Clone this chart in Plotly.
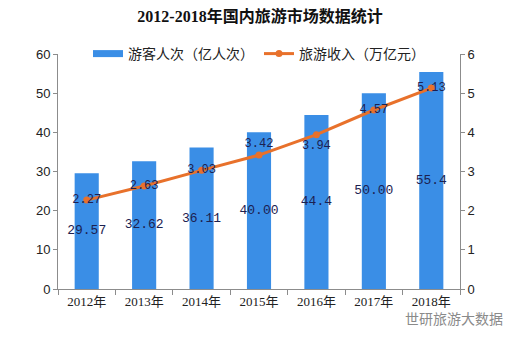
import plotly.graph_objects as go

years = ["2012年", "2013年", "2014年", "2015年", "2016年", "2017年", "2018年"]
visitors = [29.57, 32.62, 36.11, 40.00, 44.4, 50.00, 55.4]
visitor_labels = ["29.57", "32.62", "36.11", "40.00", "44.4", "50.00", "55.4"]
revenue = [2.27, 2.63, 3.03, 3.42, 3.94, 4.57, 5.13]
revenue_labels = ["2.27", "2.63", "3.03", "3.42", "3.94", "4.57", "5.13"]
revenue_text_pos = ["middle center", "middle center", "middle center", "top center",
                    "bottom center", "middle center", "middle center"]

BLUE = "#3a8ee6"
ORANGE = "#e8712b"
AXIS = "#8c8c8c"
LABEL_FONT = dict(family="Liberation Mono, DejaVu Sans Mono, monospace", size=13, color="#1c2150")
CJK = "Liberation Serif, Noto Sans CJK SC, sans-serif"

fig = go.Figure()
# legend entry for the bars, drawn as a wide flat swatch
fig.add_trace(go.Scatter(
    x=[years[0]], y=[None], mode="lines", name="游客人次（亿人次）",
    line=dict(color=BLUE, width=7), hoverinfo="skip",
))
fig.add_trace(go.Bar(
    x=years, y=visitors, name="游客人次（亿人次）", showlegend=False,
    marker=dict(color=BLUE, line=dict(width=0)),
    width=0.42,
))
# bar value labels, centred on each bar (allowed to overflow the narrow bars)
fig.add_trace(go.Scatter(
    x=years, y=[v / 2 for v in visitors], mode="text",
    text=visitor_labels, textposition="middle center",
    textfont=LABEL_FONT, showlegend=False, hoverinfo="skip",
))
fig.add_trace(go.Scatter(
    x=years, y=revenue, name="旅游收入（万亿元）", yaxis="y2",
    mode="lines+markers+text",
    line=dict(color=ORANGE, width=3),
    marker=dict(color=ORANGE, size=7),
    text=revenue_labels, textposition=revenue_text_pos,
    textfont=dict(LABEL_FONT, size=12),
))

fig.update_layout(
    width=520, height=337,
    margin=dict(l=58, r=60, t=54, b=48),
    paper_bgcolor="white", plot_bgcolor="white",
    title=dict(text="<b>2012-2018年国内旅游市场数据统计</b>", x=0.5, xanchor="center",
               y=0.95, yanchor="middle",
               font=dict(family=CJK, size=16, color="#111111")),
    legend=dict(orientation="h", x=0.5, xanchor="center", y=1.0, yanchor="middle",
                font=dict(family=CJK, size=14, color="#222222"),
                itemwidth=30, bgcolor="rgba(0,0,0,0)"),
    showlegend=True,
    xaxis=dict(type="category", categoryorder="array", categoryarray=years,
               showline=True, linecolor=AXIS, linewidth=1, ticks="outside",
               tickson="boundaries", ticklen=5, tickcolor=AXIS,
               tickfont=dict(family=CJK, size=13, color="#222222"), showgrid=False),
    yaxis=dict(range=[0, 60], dtick=10, showline=True, linecolor=AXIS, ticks="outside",
               ticklen=4, tickcolor=AXIS, showgrid=False, zeroline=False,
               tickfont=dict(family="Liberation Sans, Arial", size=13, color="#222222")),
    yaxis2=dict(range=[0, 6], dtick=1, overlaying="y", side="right", showline=True,
                linecolor=AXIS, ticks="outside", ticklen=4, tickcolor=AXIS,
                showgrid=False, zeroline=False,
                tickfont=dict(family="Liberation Sans, Arial", size=13, color="#222222")),
    annotations=[dict(text="世研旅游大数据", x=1.112, y=-0.123, xref="paper", yref="paper",
                      xanchor="right", yanchor="middle", showarrow=False,
                      font=dict(family="Noto Sans CJK SC", size=14, color="#8a8a8a"))],
)

fig.write_html("out.html")
